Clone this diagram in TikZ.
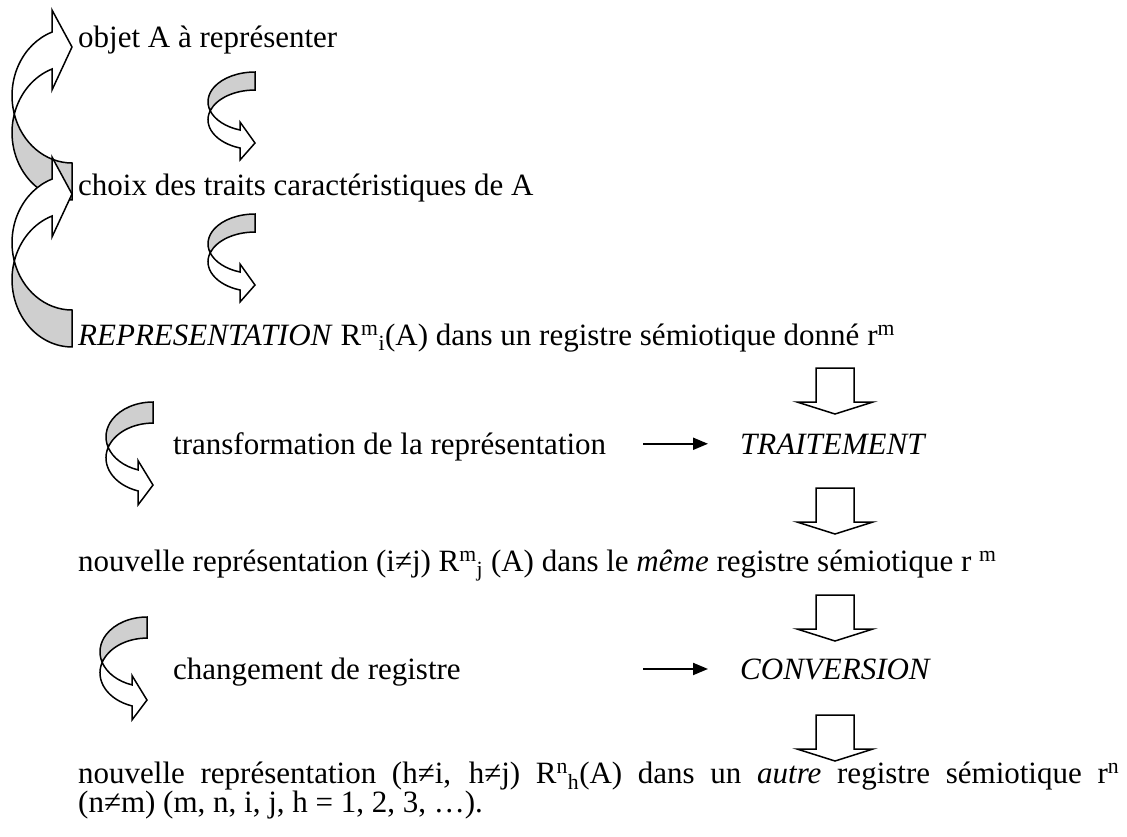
\documentclass[tikz,border=0pt]{standalone}
\usepackage{fontspec}
\setmainfont{Liberation Serif}
\usetikzlibrary{arrows.meta}
\definecolor{backface}{HTML}{CFCFCF}
\setlength{\lineskiplimit}{-20pt}
\tikzset{
  phrase/.style={anchor=base west,inner sep=0pt,font=\fontsize{31}{26}\selectfont},
  outline/.style={draw=black,line width=1.5pt,line join=miter},
  arrow/.style={-{Triangle[length=15pt,width=12pt]},line width=2pt},
  % big ribbon arrow: grey back face, then white front face with the head
  bigturn/.pic={
    \filldraw[outline,fill=backface] (14.3,114.1) arc[start angle=195.9,end angle=90,x radius=60,y radius=67.4]
      -- (72,163) arc[start angle=90,end angle=164.1,x radius=60,y radius=67.4] -- cycle;
    \filldraw[outline,fill=white] (52,32.1) arc[start angle=250.5,end angle=164.1,x radius=60,y radius=67.4]
      arc[start angle=195.9,end angle=250.5,x radius=60,y radius=67.4] -- (52,90) -- (72,47) -- (52,10) -- cycle;
  },
  % small ribbon arrow, origin at the top of its tail
  smallturn/.pic={
    \filldraw[outline,fill=backface] (0,0) arc[start angle=270,end angle=162.4,x radius=47,y radius=29.8]
      arc[start angle=197.6,end angle=270,x radius=47,y radius=29.8] -- cycle;
    \filldraw[outline,fill=white] (-44.8,38.8) arc[start angle=162.4,end angle=108.6,x radius=47,y radius=29.8]
      -- (-15,50) -- (0,71) -- (-15,88) -- (-15,76) arc[start angle=108.6,end angle=197.6,x radius=47,y radius=29.8] -- cycle;
  },
  downblock/.pic={
    \filldraw[outline,fill=white] (0,0) -- (38,0) -- (38,34) -- (57,34) -- (19,46) -- (-19,34) -- (0,34) -- cycle;
  }
}

\begin{document}
\begin{tikzpicture}[x=1pt,y=-1pt]
  \useasboundingbox (0,0) rectangle (1127,836);

  % Left: ribbon arrows
  \pic at (0,0) {bigturn};
  \pic at (0,147) {bigturn};
  \pic at (255,72) {smallturn};
  \pic at (255,214) {smallturn};
  \pic[yscale=1.17] at (153,402) {smallturn};
  \pic[yscale=1.17] at (147,617) {smallturn};

  \node[phrase] (objet) at (78,47) {objet A à représenter};
  \node[phrase] (choix) at (78,195) {choix des traits caractéristiques de A};
  \node[phrase] (repr) at (78,345) {\textit{REPRESENTATION} R\textsuperscript{m}\textsubscript{i}(A) dans un registre sémiotique donné r\textsuperscript{m}};
  \node[phrase] (transf) at (173,454) {transformation de la représentation};
  \node[phrase] (trait) at (740,454) {\textit{TRAITEMENT}};
  \node[phrase] (meme) at (78,571) {nouvelle représentation (i≠j) R\textsuperscript{m}\textsubscript{j} (A) dans le \textit{même} registre sémiotique r \textsuperscript{m}};
  \node[phrase] (chgt) at (173,679) {changement de registre};
  \node[phrase] (conv) at (740,679) {\textit{CONVERSION}};
  \node[phrase,text width=1041pt,align=justify] (autre) at (78,783) {nouvelle représentation (h≠i, h≠j) R\textsuperscript{n}\textsubscript{h}(A) dans un \textit{autre} registre sémiotique r\textsuperscript{n}\linebreak
    (n≠m) (m, n, i, j, h = 1, 2, 3, …).};

  % Right side: block arrows between the lines
  \pic at (816,368) {downblock};
  \pic at (816,488) {downblock};
  \pic at (816,595) {downblock};
  \pic at (816,715) {downblock};

  \draw[arrow] ([xshift=-97pt]trait.west) -- ([xshift=-32pt]trait.west);
  \draw[arrow] ([xshift=-97pt]conv.west) -- ([xshift=-32pt]conv.west);
\end{tikzpicture}
\end{document}
